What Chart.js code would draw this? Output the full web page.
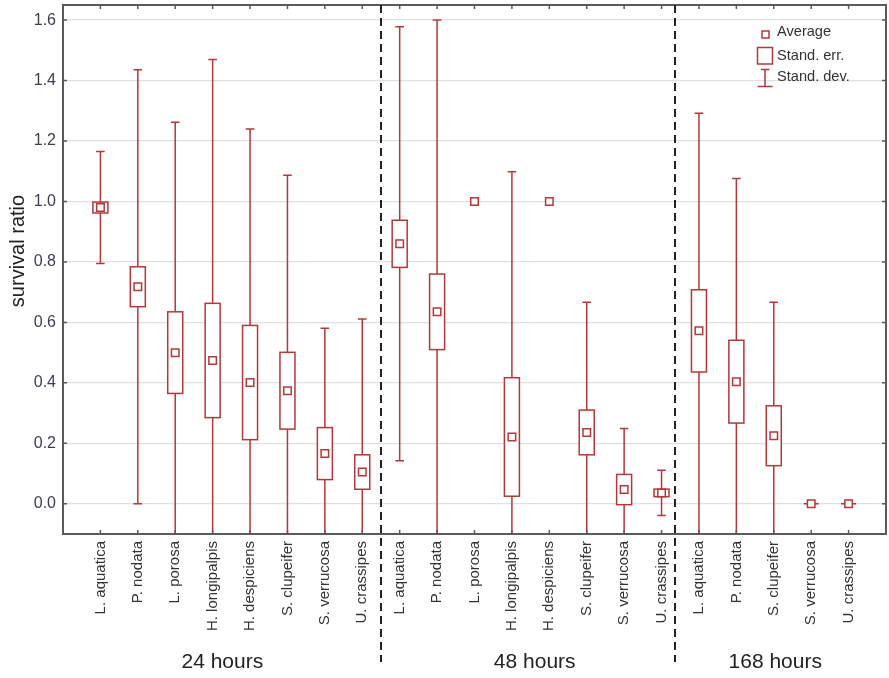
<!DOCTYPE html>
<html>
<head>
<meta charset="utf-8">
<title>survival ratio</title>
<script src="https://cdn.jsdelivr.net/npm/chart.js@4.4.1/dist/chart.umd.min.js"></script>
<style>
  html, body { margin: 0; padding: 0; background: #fff; }
  canvas { display: block; }
</style>
</head>
<body>
<canvas id="c" width="889" height="678"></canvas>
<script>
// Species on the x axis, grouped by exposure time
const speciesLabels = [
  'L. aquatica', 'P. nodata', 'L. porosa', 'H. longipalpis', 'H. despiciens', 'S. clupeifer', 'S. verrucosa', 'U. crassipes',
  'L. aquatica', 'P. nodata', 'L. porosa', 'H. longipalpis', 'H. despiciens', 'S. clupeifer', 'S. verrucosa', 'U. crassipes',
  'L. aquatica', 'P. nodata', 'S. clupeifer', 'S. verrucosa', 'U. crassipes'
];
// Average survival ratio per species
const means = [
  0.980, 0.718, 0.500, 0.474, 0.401, 0.374, 0.166, 0.105,
  0.860, 0.635, 1.000, 0.221, 1.000, 0.236, 0.047, 0.036,
  0.572, 0.404, 0.225, 0.000, 0.000
];
// Standard error (box half-height); null where it is undefined
const stdErr = [
  0.018, 0.066, 0.135, 0.189, 0.189, 0.127, 0.086, 0.057,
  0.078, 0.125, null, 0.196, null, 0.074, 0.050, 0.0125,
  0.136, 0.137, 0.099, 0.000, 0.000
];
// Standard deviation (whisker half-length); null where it is undefined
const stdDev = [
  0.185, 0.718, 0.762, 0.996, 0.839, 0.713, 0.415, 0.506,
  0.718, 0.965, null, 0.877, null, 0.431, 0.202, 0.075,
  0.720, 0.672, 0.442, 0.000, 0.000
];
// Exposure-time groups
const groupNames = ['24 hours', '48 hours', '168 hours'];
const groupLabelAt = [3.26, 11.61, 18.04];
const groupSeparators = [7.5, 15.37];
const yTicks = [0.0, 0.2, 0.4, 0.6, 0.8, 1.0, 1.2, 1.4, 1.6];
const legendItems = ['Average', 'Stand. err.', 'Stand. dev.'];

const RED = '#b2393b';
const AXIS = '#5a5a5a';
const FONT = '"Liberation Sans", Arial, sans-serif';

// Boxes (mean ± SE) and whiskers (mean ± SD), drawn beneath the mean markers
const boxWhiskers = {
  id: 'boxWhiskers',
  beforeDatasetsDraw(chart) {
    const { ctx, chartArea: a, scales: { x, y } } = chart;
    ctx.save();
    ctx.beginPath();
    ctx.rect(a.left, a.top, a.right - a.left, a.bottom - a.top);
    ctx.clip();
    ctx.strokeStyle = RED;
    ctx.lineWidth = 1.5;
    const boxHalf = 7.5, capHalf = 4.3;
    means.forEach((m, i) => {
      const px = x.getPixelForValue(i);
      const sd = stdDev[i];
      if (sd != null && sd > 0) {
        const t = y.getPixelForValue(m + sd), b = y.getPixelForValue(m - sd);
        ctx.beginPath();
        ctx.moveTo(px, t); ctx.lineTo(px, b);
        ctx.moveTo(px - capHalf, t); ctx.lineTo(px + capHalf, t);
        ctx.moveTo(px - capHalf, b); ctx.lineTo(px + capHalf, b);
        ctx.stroke();
      }
      const se = stdErr[i];
      if (se != null) {
        const t = y.getPixelForValue(m + se), b = y.getPixelForValue(m - se);
        ctx.fillStyle = '#fff';
        ctx.fillRect(px - boxHalf, t, boxHalf * 2, b - t);
        ctx.strokeRect(px - boxHalf, t, boxHalf * 2, b - t);
      }
    });
    ctx.restore();
  }
};

// Frame, inward tick marks, group separators, group names, axis title, legend
const decorations = {
  id: 'decorations',
  afterDraw(chart) {
    const { ctx, chartArea: a, scales: { x, y } } = chart;
    ctx.save();
    // inward tick marks on all four sides
    ctx.strokeStyle = AXIS;
    ctx.lineWidth = 1.5;
    ctx.beginPath();
    yTicks.forEach(v => {
      const py = y.getPixelForValue(v);
      ctx.moveTo(a.left, py); ctx.lineTo(a.left + 4, py);
      ctx.moveTo(a.right, py); ctx.lineTo(a.right - 4, py);
    });
    speciesLabels.forEach((_, i) => {
      const px = x.getPixelForValue(i);
      ctx.moveTo(px, a.bottom); ctx.lineTo(px, a.bottom - 4);
      ctx.moveTo(px, a.top); ctx.lineTo(px, a.top + 4);
    });
    ctx.stroke();
    // frame
    ctx.lineWidth = 2;
    ctx.strokeRect(a.left, a.top, a.right - a.left, a.bottom - a.top);

    // dashed separators between exposure groups
    ctx.strokeStyle = '#222';
    ctx.lineWidth = 2;
    ctx.setLineDash([8, 5]);
    groupSeparators.forEach(v => {
      const px = Math.round(x.getPixelForValue(v));
      ctx.beginPath();
      ctx.moveTo(px, a.top); ctx.lineTo(px, 662);
      ctx.stroke();
    });
    ctx.setLineDash([]);

    // group names
    ctx.fillStyle = '#222';
    ctx.font = '21px ' + FONT;
    ctx.textAlign = 'center';
    ctx.textBaseline = 'middle';
    groupNames.forEach((g, k) => {
      ctx.fillText(g, x.getPixelForValue(groupLabelAt[k]), 662);
    });

    // y axis title
    ctx.save();
    ctx.translate(18, 251);
    ctx.rotate(-Math.PI / 2);
    ctx.font = '20px ' + FONT;
    ctx.fillStyle = '#222';
    ctx.fillText('survival ratio', 0, 0);
    ctx.restore();

    // legend
    ctx.strokeStyle = RED;
    ctx.lineWidth = 1.5;
    ctx.strokeRect(762, 31, 7, 7);
    ctx.strokeRect(757.5, 47.5, 15, 16.5);
    ctx.beginPath();
    ctx.moveTo(765, 69.5); ctx.lineTo(765, 86.5);
    ctx.moveTo(761, 69.5); ctx.lineTo(769.5, 69.5);
    ctx.moveTo(757.5, 86.5); ctx.lineTo(772.5, 86.5);
    ctx.stroke();
    ctx.fillStyle = '#333';
    ctx.font = '14.6px ' + FONT;
    ctx.textAlign = 'left';
    ctx.textBaseline = 'middle';
    const ly = [32, 55.5, 76.5];
    legendItems.forEach((t, k) => ctx.fillText(t, 777, ly[k]));
    ctx.restore();
  }
};

new Chart(document.getElementById('c'), {
  type: 'scatter',
  data: {
    datasets: [{
      label: 'Average',
      data: means.map((m, i) => ({ x: i, y: m })),
      pointStyle: 'rect',
      pointRadius: 5.3,
      pointHoverRadius: 5.3,
      borderWidth: 1.5,
      borderColor: RED,
      backgroundColor: '#fff'
    }]
  },
  options: {
    responsive: false,
    animation: false,
    events: [],
    layout: { autoPadding: false, padding: { top: 5, right: 3, left: 0, bottom: 0 } },
    plugins: { legend: { display: false }, tooltip: { enabled: false } },
    scales: {
      x: {
        type: 'linear',
        min: -1,
        max: 21,
        afterBuildTicks: s => { s.ticks = speciesLabels.map((_, i) => ({ value: i })); },
        afterFit: s => { s.height = 144; s.paddingLeft = 0; s.paddingRight = 0; },
        grid: { display: false, drawTicks: false },
        border: { display: false },
        ticks: {
          autoSkip: false,
          maxRotation: 90,
          minRotation: 90,
          padding: 7,
          color: '#333',
          font: { family: FONT, size: 15 },
          callback: v => speciesLabels[v] ?? ''
        }
      },
      y: {
        min: -0.1,
        max: 1.65,
        afterBuildTicks: s => { s.ticks = yTicks.map(v => ({ value: v })); },
        afterFit: s => { s.width = 63; s.paddingTop = 0; s.paddingBottom = 0; },
        grid: { color: '#e0e0e0', lineWidth: 1.3, drawTicks: false },
        border: { display: false },
        ticks: {
          padding: 7,
          color: '#3d3d4d',
          font: { family: FONT, size: 16 },
          callback: v => v.toFixed(1)
        }
      }
    }
  },
  plugins: [boxWhiskers, decorations]
});
</script>
</body>
</html>
